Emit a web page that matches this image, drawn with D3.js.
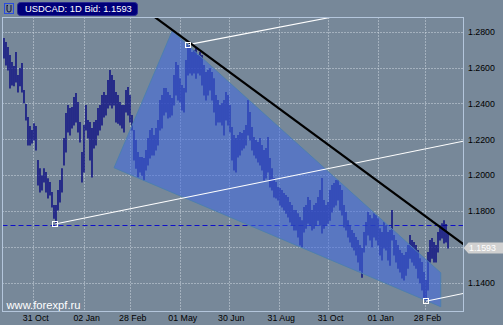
<!DOCTYPE html>
<html><head><meta charset="utf-8">
<script src="https://cdn.jsdelivr.net/npm/d3@7"></script>
<style>html,body{margin:0;padding:0;background:#778899;overflow:hidden}</style>
</head><body><svg id="c" width="503" height="325"></svg>
<script>
// ---------- data ----------
const titleText = "USDCAD: 1D Bid: 1.1593";
const bidPrice = 1.1593;
const watermark = "www.forexpf.ru";
const firstBarDate = "2004-09-24T17:00";
const barStepDays = 2.4765;
const barHigh = [
1.2765,1.2743,1.2715,1.2670,1.2631,1.2609,1.2687,1.2558,1.2597,1.2625,
1.2475,1.2397,1.2324,1.2274,1.2252,1.2290,1.2274,1.2084,1.2039,1.2000,
1.2039,1.2017,1.1983,1.1962,1.1906,1.1833,1.1833,1.1917,1.1973,1.2039,
1.2207,1.2346,1.2391,1.2374,1.2380,1.2436,1.2458,1.2408,1.2296,1.2129,
1.2279,1.2391,1.2307,1.2296,1.2263,1.2296,1.2307,1.2374,1.2391,1.2447,
1.2464,1.2447,1.2531,1.2586,1.2558,1.2531,1.2464,1.2447,1.2408,1.2391,
1.2391,1.2475,1.2492,1.2447,1.2335,1.2252,1.2196,1.2129,1.2101,1.2101,
1.2095,1.2140,1.2207,1.2252,1.2263,1.2224,1.2263,1.2307,1.2419,1.2447,
1.2486,1.2486,1.2464,1.2447,1.2430,1.2558,1.2631,1.2614,1.2541,1.2503,
1.2486,1.2642,1.2732,1.2726,1.2687,1.2698,1.2709,1.2670,1.2687,1.2670,
1.2614,1.2575,1.2586,1.2597,1.2575,1.2541,1.2447,1.2419,1.2391,1.2402,
1.2419,1.2464,1.2447,1.2391,1.2268,1.2224,1.2207,1.2224,1.2241,1.2235,
1.2252,1.2279,1.2419,1.2352,1.2268,1.2213,1.2196,1.2185,1.2207,1.2168,
1.2140,1.2151,1.2213,1.2095,1.2039,1.1984,1.1962,1.1934,1.1928,1.1917,
1.1900,1.1889,1.1878,1.1850,1.1833,1.1805,1.1805,1.1788,1.1766,1.1749,
1.1822,1.1833,1.1878,1.1861,1.1805,1.1833,1.1844,1.1878,1.1917,1.1984,
1.1861,1.1833,1.1850,1.1917,1.1945,1.1956,1.1973,1.1973,1.1945,1.1917,
1.1833,1.1794,1.1749,1.1721,1.1694,1.1677,1.1655,1.1638,1.1610,1.1593,
1.1683,1.1738,1.1794,1.1777,1.1760,1.1788,1.1777,1.1760,1.1704,1.1683,
1.1738,1.1721,1.1683,1.1694,1.1805,1.1666,1.1638,1.1610,1.1582,1.1565,
1.1554,1.1571,1.1610,1.1666,1.1638,1.1627,1.1610,1.1582,1.1537,1.1515,
1.1459,1.1415,1.1571,1.1638,1.1649,1.1627,1.1610,1.1683,1.1721,1.1732,
1.1749,1.1727,1.1683];
const barLow = [
1.2653,1.2614,1.2586,1.2486,1.2503,1.2498,1.2520,1.2464,1.2498,1.2464,
1.2402,1.2307,1.2168,1.2168,1.2179,1.2196,1.2140,1.1945,1.1906,1.1917,
1.1962,1.1906,1.1872,1.1889,1.1822,1.1760,1.1727,1.1805,1.1850,1.1906,
1.2056,1.2129,1.2241,1.2224,1.2263,1.2279,1.2296,1.2241,1.2185,1.1962,
1.2017,1.2252,1.2207,1.2084,1.1989,1.2151,1.2168,1.2224,1.2252,1.2279,
1.2324,1.2335,1.2374,1.2391,1.2374,1.2391,1.2296,1.2290,1.2279,1.2263,
1.2241,1.2352,1.2335,1.2296,1.2252,1.2084,1.2039,1.1989,1.2017,1.2000,
1.1973,1.2028,1.2056,1.2095,1.2112,1.2112,1.2140,1.2168,1.2252,1.2263,
1.2335,1.2352,1.2318,1.2324,1.2335,1.2391,1.2447,1.2419,1.2408,1.2363,
1.2352,1.2464,1.2558,1.2569,1.2558,1.2569,1.2541,1.2569,1.2558,1.2503,
1.2447,1.2419,1.2447,1.2475,1.2419,1.2352,1.2279,1.2296,1.2296,1.2279,
1.2224,1.2307,1.2279,1.2241,1.2084,1.2028,1.2017,1.2101,1.2112,1.2140,
1.2151,1.2168,1.2224,1.2196,1.2140,1.2112,1.2095,1.2073,1.2056,1.2028,
1.1973,1.1984,1.2017,1.1934,1.1917,1.1878,1.1872,1.1861,1.1833,1.1822,
1.1805,1.1788,1.1766,1.1738,1.1721,1.1694,1.1694,1.1655,1.1610,1.1599,
1.1683,1.1704,1.1732,1.1721,1.1694,1.1704,1.1721,1.1749,1.1721,1.1677,
1.1704,1.1721,1.1732,1.1749,1.1794,1.1822,1.1833,1.1861,1.1805,1.1777,
1.1710,1.1694,1.1655,1.1627,1.1599,1.1582,1.1554,1.1515,1.1470,1.1431,
1.1571,1.1610,1.1666,1.1638,1.1599,1.1655,1.1638,1.1610,1.1554,1.1526,
1.1593,1.1582,1.1526,1.1498,1.1638,1.1554,1.1515,1.1481,1.1459,1.1426,
1.1415,1.1442,1.1481,1.1537,1.1515,1.1498,1.1481,1.1426,1.1398,1.1359,
1.1314,1.1297,1.1359,1.1515,1.1537,1.1515,1.1515,1.1571,1.1638,1.1649,
1.1621,1.1627,1.1593];
const priceGrid = [1.28,1.26,1.24,1.22,1.20,1.18,1.16,1.14];
const priceLabels = [1.28,1.26,1.24,1.22,1.20,1.18,1.14];
const dateTicks = ["2004-10-31","2005-01-02","2005-02-28","2005-05-01","2005-06-30","2005-08-31","2005-10-31","2006-01-01","2006-02-28"];
const dateLabels = ["31 Oct","02 Jan","28 Feb","01 May","30 Jun","31 Aug","31 Oct","01 Jan","28 Feb"];
const hLineLevel = 1.1720;
const blackTrend = [["2005-04-21",1.2810],["2006-04-16",1.1617]];
const whiteRays = [
  [["2004-11-27",1.1727],["2006-03-01",1.2147]],
  [["2005-05-11",1.2728],["2005-08-14",1.2810]],
  [["2006-03-01",1.1297],["2006-04-16",1.1340]]
];
const wedge = [["2005-02-08",1.2041],["2005-04-21",1.2804],["2006-03-19T12:00",1.1455],["2006-03-19T12:00",1.1266]];

// ---------- helpers ----------
const pd = s => new Date(s.includes("T") ? s : s + "T00:00");
const svg = d3.select("#c");
const L = 2.5, R = 463.5, T = 17.5, B = 311.5;

const x = d3.scaleTime().domain([pd("2004-10-31"), pd("2006-02-28")]).range([33.3, 425]);
const y = d3.scaleLinear().domain([1.14, 1.28]).range([282.7, 31.7]);

svg.append("rect").attr("width",503).attr("height",325).attr("fill","#778899");

const defs = svg.append("defs");
defs.append("clipPath").attr("id","plot").append("rect")
  .attr("x",L+0.5).attr("y",T+0.5).attr("width",R-L-1).attr("height",B-T-1);

const plot = svg.append("g").attr("clip-path","url(#plot)");

// grid
plot.append("g").selectAll("line").data(priceGrid).join("line")
  .attr("x1",L).attr("x2",R)
  .attr("y1",d=>Math.round(y(d))+0.5).attr("y2",d=>Math.round(y(d))+0.5)
  .attr("stroke","#d2dae2").attr("stroke-dasharray","1,2");
plot.append("g").selectAll("line").data(dateTicks).join("line")
  .attr("y1",T).attr("y2",B)
  .attr("x1",d=>Math.round(x(pd(d)))+0.5).attr("x2",d=>Math.round(x(pd(d)))+0.5)
  .attr("stroke","#d2dae2").attr("stroke-dasharray","1,2");

// horizontal dashed level
plot.append("line").attr("x1",L).attr("x2",R)
  .attr("y1",Math.round(y(hLineLevel))+0.5).attr("y2",Math.round(y(hLineLevel))+0.5)
  .attr("stroke","#1010c8").attr("stroke-dasharray","5,3");

// bars
const t0 = pd(firstBarDate).getTime();
const bars = barHigh.map((h,i)=>({date:new Date(t0 + i*barStepDays*864e5), high:h, low:barLow[i]}));
plot.append("g").selectAll("line").data(bars).join("line")
  .attr("x1",d=>x(d.date)).attr("x2",d=>x(d.date))
  .attr("y1",d=>y(d.high)).attr("y2",d=>y(d.low)+0.5)
  .attr("stroke","#000080").attr("stroke-width",1.35);

// wedge polygon
plot.append("polygon")
  .attr("points", wedge.map(p=>[x(pd(p[0])), y(p[1])].join(",")).join(" "))
  .attr("fill","rgb(65,105,225)").attr("fill-opacity",0.55)
  .attr("stroke","#4d7fb0").attr("stroke-width",1);

// line extension helper
function extend(p1,p2,xa,xb){
  const x1=x(pd(p1[0])), y1=y(p1[1]), x2=x(pd(p2[0])), y2=y(p2[1]);
  const k=(y2-y1)/(x2-x1);
  return [[xa, y1+k*(xa-x1)],[xb, y1+k*(xb-x1)]];
}
// white rays
whiteRays.forEach(r=>{
  const seg = extend(r[0],r[1], x(pd(r[0][0])), R+10);
  plot.append("line").attr("x1",seg[0][0]).attr("y1",seg[0][1])
    .attr("x2",seg[1][0]).attr("y2",seg[1][1])
    .attr("stroke","#ffffff").attr("stroke-width",1.1);
});
// black trend
{
  const seg = extend(blackTrend[0],blackTrend[1], L-10, R+10);
  plot.append("line").attr("x1",seg[0][0]).attr("y1",seg[0][1])
    .attr("x2",seg[1][0]).attr("y2",seg[1][1])
    .attr("stroke","#000000").attr("stroke-width",2.2);
}
// anchor squares
plot.append("g").selectAll("rect").data(whiteRays.map(r=>r[0])).join("rect")
  .attr("x",d=>Math.round(x(pd(d[0])))-2.5).attr("y",d=>Math.round(y(d[1]))-2.5)
  .attr("width",5).attr("height",5).attr("fill","none").attr("stroke","#ffffff");

// watermark
svg.append("text").attr("x",6.5).attr("y",308.5).text(watermark)
  .attr("fill","#ffffff").attr("font-family","Liberation Sans, Arial, sans-serif").attr("font-size","11.2px");

// frame
svg.append("rect").attr("x",L).attr("y",T).attr("width",R-L).attr("height",B-T)
  .attr("fill","none").attr("stroke","#b4c6dc");

// axes
const font = "Liberation Sans, Arial, sans-serif";
const yAxis = d3.axisRight(y).tickValues(priceLabels).tickFormat(d3.format(".4f")).tickSize(0).tickPadding(4.5);
const gy = svg.append("g").attr("transform",`translate(${R},0)`).call(yAxis);
gy.select(".domain").remove();
gy.selectAll("text").attr("fill","#000").attr("font-family",font).attr("font-size","8.8px");

const xAxis = d3.axisBottom(x).tickValues(dateTicks.map(pd)).tickFormat((d,i)=>dateLabels[i]).tickSize(0).tickPadding(3.5);
const gx = svg.append("g").attr("transform",`translate(2,${B})`).call(xAxis);
gx.select(".domain").remove();
gx.selectAll("text").attr("fill","#000").attr("font-family",font).attr("font-size","8.8px");

// bid label
const by = y(bidPrice);
svg.append("polygon")
  .attr("points",[[R,by],[R+5,by-5.5],[503,by-5.5],[503,by+5.5],[R+5,by+5.5]].map(p=>p.join(",")).join(" "))
  .attr("fill","#d0d0d0");
svg.append("text").attr("x",R+5.5).attr("y",by).attr("dy","0.34em").text(bidPrice.toFixed(4))
  .attr("fill","#ffffff").attr("font-family",font).attr("font-size","8.8px");

// title
svg.append("rect").attr("x",4.5).attr("y",3.5).attr("width",9).attr("height",10)
  .attr("fill","none").attr("stroke","#2a4be0");
svg.append("path").attr("d","M7,6 v4 a2,2 0 0 0 4,0 v-4 M6.5,5.5 h1.5 M10.5,5.5 h1")
  .attr("fill","none").attr("stroke","#101040").attr("stroke-width",1);
svg.append("rect").attr("x",17.5).attr("y",2.5).attr("width",120).attr("height",13).attr("rx",3)
  .attr("fill","#00007a").attr("stroke","#2a2a90");
svg.append("text").attr("x",25).attr("y",12.2).text(titleText)
  .attr("fill","#ffffff").attr("font-family",font).attr("font-size","9.4px");
</script></body></html>
